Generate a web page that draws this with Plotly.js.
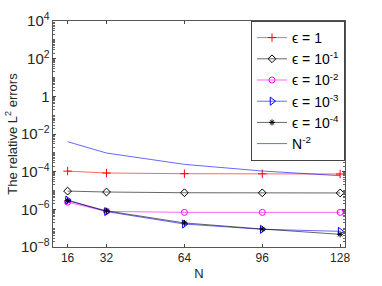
<!DOCTYPE html>
<html><head><meta charset="utf-8">
<script src="https://cdn.plot.ly/plotly-3.0.1.min.js"></script>
<style>body{margin:0;background:#fff}#c{width:382px;height:286px}</style>
</head><body><div id="c"></div>
<script>
const N = [16, 32, 64, 96, 128];
const eps1 = [1.07e-4, 8.5e-5, 7.8e-5, 7.7e-5, 7.5e-5];
const eps1m1 = [9.3e-6, 8.3e-6, 7.6e-6, 7.5e-6, 7.4e-6];
const eps1m2 = [2.4e-6, 7.8e-7, 6.9e-7, 6.9e-7, 6.9e-7];
const eps1m3 = [3.1e-6, 7.6e-7, 1.66e-7, 8.7e-8, 6.8e-8];
const eps1m4 = [2.9e-6, 8.3e-7, 1.9e-7, 9.0e-8, 4.7e-8];
const ref = [3.906e-3, 9.766e-4, 2.441e-4, 1.085e-4, 6.104e-5];
const names = ['ϵ = 1', 'ϵ = 10<sup>-1</sup>', 'ϵ = 10<sup>-2</sup>', 'ϵ = 10<sup>-3</sup>', 'ϵ = 10<sup>-4</sup>', 'N<sup>-2</sup>'];

const specs = [
  {y: eps1, color: '#ff0000', symbol: 'cross-thin-open', size: 6},
  {y: eps1m1, color: '#000000', symbol: 'diamond-open', size: 6},
  {y: eps1m2, color: '#ff00ff', symbol: 'circle-open', size: 6},
  {y: eps1m3, color: '#0000ff', symbol: 'triangle-right-open', size: 7},
  {y: eps1m4, color: '#000000', symbol: 'asterisk-open', size: 5},
  {y: ref, color: '#0000ff', symbol: null, size: 0}
];
const traces = specs.map((t, i) => {
  const tr = {
    x: N, y: t.y, name: names[i], type: 'scatter',
    mode: t.symbol ? 'lines+markers' : 'lines',
    line: {color: t.color, width: 0.6}
  };
  if (t.symbol) tr.marker = {symbol: t.symbol, size: t.size, color: t.color, line: {color: t.color, width: 1}};
  return tr;
});

const layout = {
  width: 382, height: 286,
  margin: {l: 53, r: 37, t: 21, b: 39},
  paper_bgcolor: '#fff', plot_bgcolor: '#fff',
  font: {family: 'Liberation Sans, Arial, sans-serif', size: 11, color: '#262626'},
  showlegend: true,
  legend: {x: 1, xanchor: 'right', y: 1, yanchor: 'top', bgcolor: '#fff',
    bordercolor: '#444', borderwidth: 1, font: {size: 14, color: '#000'},
    tracegroupgap: 0, itemwidth: 30},
  xaxis: {
    range: [10, 130], tickvals: N, ticktext: N.map(String),
    ticks: 'inside', ticklen: 3, tickcolor: '#444',
    showline: true, linecolor: '#555', linewidth: 1, mirror: 'ticks',
    showgrid: false, zeroline: false,
    tickfont: {size: 12},
    title: {text: 'N', font: {size: 13}, standoff: 4}
  },
  yaxis: {
    type: 'log', range: [-8, 4], dtick: 2, exponentformat: 'power',
    ticks: 'inside', ticklen: 3, tickcolor: '#444',
    minor: {ticks: 'inside', ticklen: 2, dtick: 'D1', tickcolor: '#666'},
    showline: true, linecolor: '#555', linewidth: 1, mirror: 'ticks',
    showgrid: false, zeroline: false,
    tickfont: {size: 12},
    title: {text: 'The relative L<sup>2</sup> errors', font: {size: 13}, standoff: 0}
  }
};
Plotly.newPlot('c', traces, layout, {displayModeBar: false, staticPlot: true});
</script></body></html>
